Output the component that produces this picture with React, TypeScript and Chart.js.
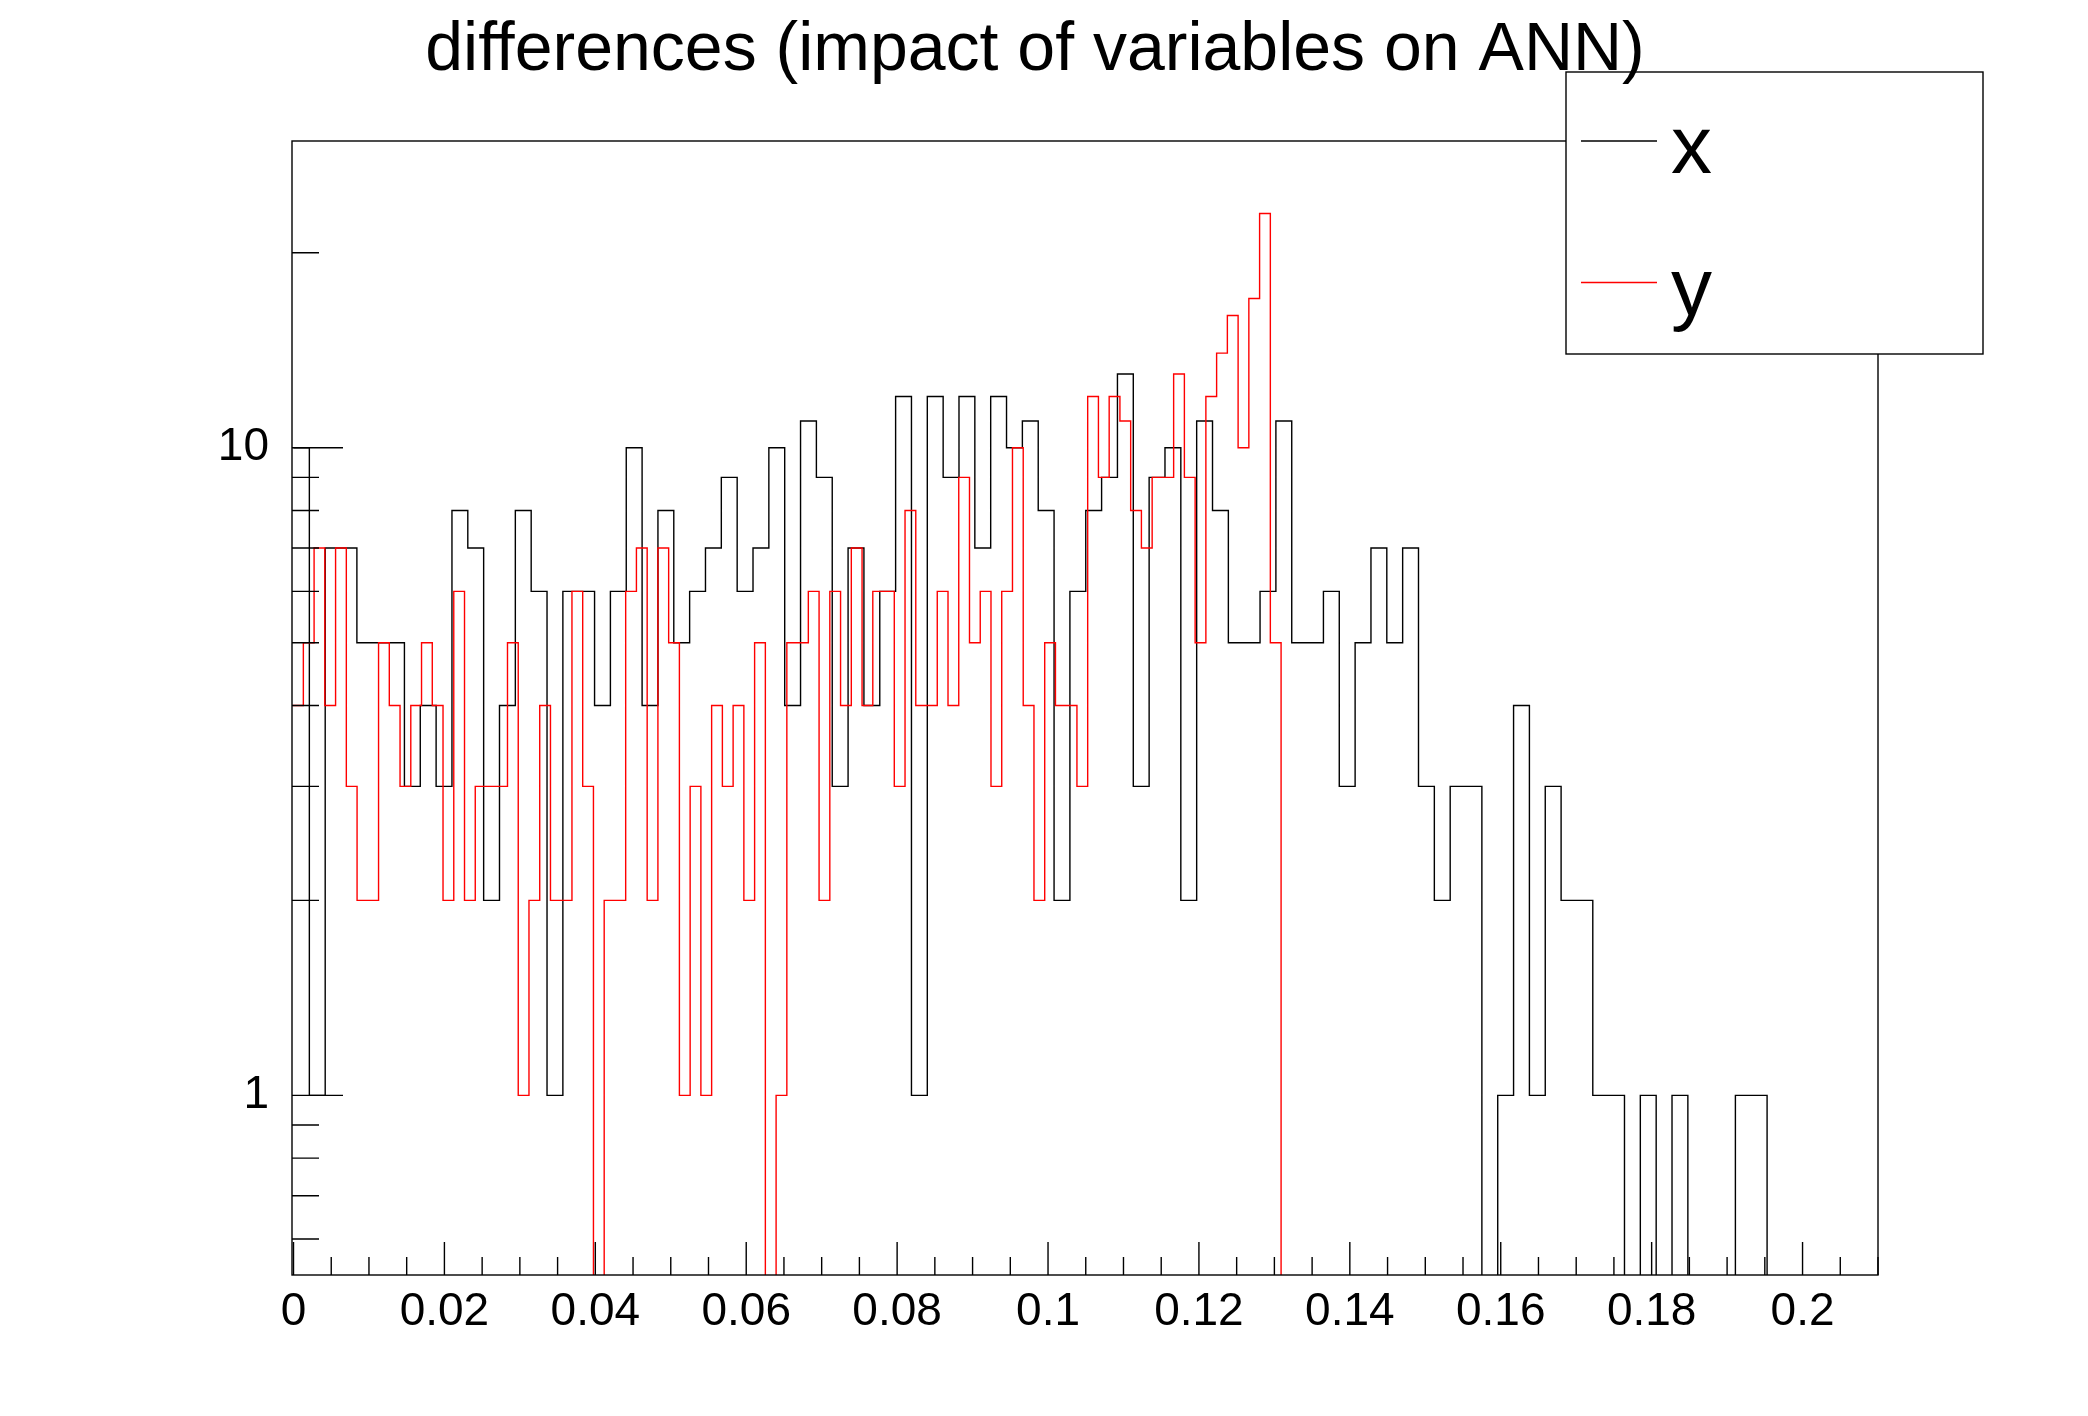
import { useEffect, useRef } from 'react';
import { Chart, registerables } from 'chart.js';

Chart.register(...registerables);

// bin contents
// "x": 100 bins of width 0.0021 starting at 0
const xCounts = [
  10, 1, 7, 7, 5, 5, 5, 3, 4, 3,
  8, 7, 2, 4, 8, 6, 1, 6, 6, 4,
  6, 10, 4, 8, 5, 6, 7, 9, 6, 7,
  10, 4, 11, 9, 3, 7, 4, 6, 12, 1,
  12, 9, 12, 7, 12, 10, 11, 8, 2, 6,
  8, 9, 13, 3, 9, 10, 2, 11, 8, 5,
  5, 6, 11, 5, 5, 6, 3, 5, 7, 5,
  7, 3, 2, 3, 3, 0, 1, 4, 1, 3,
  2, 2, 1, 1, 0, 1, 0, 1, 0, 0,
  0, 1, 1, 0, 0, 0, 0, 0, 0, 0,
];

// "y": finer binning, everything above bin 91 is empty
const yCounts = [
  4, 5, 7, 4, 7, 3, 2, 2, 5, 4,
  3, 4, 5, 4, 2, 6, 2, 3, 3, 3,
  5, 1, 2, 4, 2, 2, 6, 3, 0, 2,
  2, 6, 7, 2, 7, 5, 1, 3, 1, 4,
  3, 4, 2, 5, 0, 1, 5, 5, 6, 2,
  6, 4, 7, 4, 6, 6, 3, 8, 4, 4,
  6, 4, 9, 5, 6, 3, 6, 10, 4, 2,
  5, 4, 4, 3, 12, 9, 12, 11, 8, 7,
  9, 9, 13, 9, 5, 12, 14, 16, 10, 17,
  23, 5,
];

const X_BIN_START = 0;
const X_BIN_WIDTH = 0.0021;
const Y_BIN_START = -0.00012;
const Y_BIN_WIDTH = 0.001424;

const seriesLabels = ['x', 'y'];
const seriesColors = ['#000000', '#ff0000'];

const TITLE = 'differences (impact of variables on ANN)';

const xMajorTicks = [0, 0.02, 0.04, 0.06, 0.08, 0.1, 0.12, 0.14, 0.16, 0.18, 0.2];
const xMajorLabels = ['0', '0.02', '0.04', '0.06', '0.08', '0.1', '0.12', '0.14', '0.16', '0.18', '0.2'];
const X_MINOR_STEP = 0.005;
const yMajorTicks = [1, 10];
const yMajorLabels = ['1', '10'];
const yMinorTicks = [0.6, 0.7, 0.8, 0.9, 2, 3, 4, 5, 6, 7, 8, 9, 20];

const X_MIN = -0.0002;
const X_MAX = 0.21;
const Y_MIN = 0.528;
const Y_MAX = 29.76;

// empty bins sit far below the log axis so the outline drops out of the frame
const EMPTY = 1e-3;

const FONT = '"Liberation Sans", Arial, Helvetica, sans-serif';

function histPoints(start: number, width: number, counts: number[]) {
  const pts = counts.map((c, i) => ({ x: start + i * width, y: c > 0 ? c : EMPTY }));
  pts.push({ x: start + counts.length * width, y: EMPTY });
  return pts;
}

function xTickValues() {
  const vals: number[] = [];
  for (let i = 0; i * X_MINOR_STEP <= X_MAX + 1e-9; i++) {
    vals.push(+(i * X_MINOR_STEP).toFixed(4));
  }
  return vals;
}

function labelFor(v: number, ticks: number[], labels: string[]) {
  const i = ticks.findIndex(t => Math.abs(t - v) < 1e-9);
  return i >= 0 ? labels[i] : '';
}

// ROOT-like frame: inward ticks, legend box and title
const rootFrame = {
  id: 'rootFrame',
  afterDraw(chart: any) {
    const { ctx, chartArea: a } = chart;
    const xs = chart.scales.x;
    const ys = chart.scales.y;
    ctx.save();
    ctx.strokeStyle = '#000';
    ctx.lineWidth = 1.4;
    ctx.strokeRect(a.left, a.top, a.right - a.left, a.bottom - a.top);

    ctx.beginPath();
    xs.ticks.forEach((t: any) => {
      const px = xs.getPixelForValue(t.value);
      const len = t.label ? 33 : 18;
      ctx.moveTo(px, a.bottom);
      ctx.lineTo(px, a.bottom - len);
    });
    ys.ticks.forEach((t: any) => {
      const py = ys.getPixelForValue(t.value);
      const len = t.label ? 51 : 27;
      ctx.moveTo(a.left, py);
      ctx.lineTo(a.left + len, py);
    });
    ctx.stroke();

    // legend
    const box = { x: 1566, y: 72, w: 417, h: 282 };
    ctx.fillStyle = '#fff';
    ctx.fillRect(box.x, box.y, box.w, box.h);
    ctx.strokeRect(box.x, box.y, box.w, box.h);
    ctx.font = `82px ${FONT}`;
    ctx.textAlign = 'left';
    ctx.textBaseline = 'alphabetic';
    chart.data.datasets.forEach((ds: any, i: number) => {
      const ly = 141 + i * 141.5;
      ctx.strokeStyle = ds.borderColor;
      ctx.beginPath();
      ctx.moveTo(1581, ly);
      ctx.lineTo(1657, ly);
      ctx.stroke();
      ctx.fillStyle = '#000';
      ctx.fillText(ds.label, 1671, ly + 32);
    });

    // title
    ctx.font = `68px ${FONT}`;
    ctx.textAlign = 'center';
    ctx.fillStyle = '#000';
    ctx.fillText(TITLE, 1035, 70);
    ctx.restore();
  },
};

export default function App() {
  const canvasRef = useRef<HTMLCanvasElement>(null);
  const chartRef = useRef<Chart | null>(null);

  useEffect(() => {
    document.body.style.margin = '0';
    if (!canvasRef.current) return;

    if (chartRef.current) {
      chartRef.current.destroy();
    }

    chartRef.current = new Chart(canvasRef.current, {
      type: 'line',
      data: {
        datasets: [
          {
            label: seriesLabels[0],
            data: histPoints(X_BIN_START, X_BIN_WIDTH, xCounts),
            borderColor: seriesColors[0],
            borderWidth: 1.4,
            stepped: true,
            pointRadius: 0,
            fill: false,
            clip: 0,
            order: 2,
          },
          {
            label: seriesLabels[1],
            data: histPoints(Y_BIN_START, Y_BIN_WIDTH, yCounts),
            borderColor: seriesColors[1],
            borderWidth: 1.4,
            stepped: true,
            pointRadius: 0,
            fill: false,
            clip: 0,
            order: 1,
          },
        ],
      },
      options: {
        animation: false,
        responsive: false,
        devicePixelRatio: 1,
        layout: { padding: { left: 0, top: 141, right: 210, bottom: 0 } },
        plugins: {
          legend: { display: false },
          title: { display: false },
          tooltip: { enabled: false },
        },
        scales: {
          x: {
            type: 'linear',
            min: X_MIN,
            max: X_MAX,
            bounds: 'data',
            grid: { display: false },
            border: { display: false },
            afterBuildTicks: (s: any) => {
              s.ticks = xTickValues().map(v => ({ value: v }));
            },
            afterFit: (s: any) => {
              s.height = 141;
            },
            ticks: {
              autoSkip: false,
              maxRotation: 0,
              padding: 2,
              color: '#000',
              font: { family: FONT, size: 46 },
              callback: (v: any) => labelFor(Number(v), xMajorTicks, xMajorLabels),
            },
          },
          y: {
            type: 'logarithmic',
            min: Y_MIN,
            max: Y_MAX,
            bounds: 'data',
            grid: { display: false },
            border: { display: false },
            afterBuildTicks: (s: any) => {
              s.ticks = [...yMinorTicks, ...yMajorTicks].sort((p, q) => p - q).map(v => ({ value: v }));
            },
            afterFit: (s: any) => {
              s.width = 292;
            },
            ticks: {
              autoSkip: false,
              padding: 15,
              color: '#000',
              font: { family: FONT, size: 46 },
              callback: (v: any) => labelFor(Number(v), yMajorTicks, yMajorLabels),
            },
          },
        },
      },
      plugins: [rootFrame],
    });

    return () => {
      if (chartRef.current) {
        chartRef.current.destroy();
        chartRef.current = null;
      }
    };
  }, []);

  return (
    <div style={{ width: 2088, height: 1416, background: '#fff' }}>
      <canvas ref={canvasRef} width={2088} height={1416} style={{ display: 'block', width: 2088, height: 1416 }} />
    </div>
  );
}
